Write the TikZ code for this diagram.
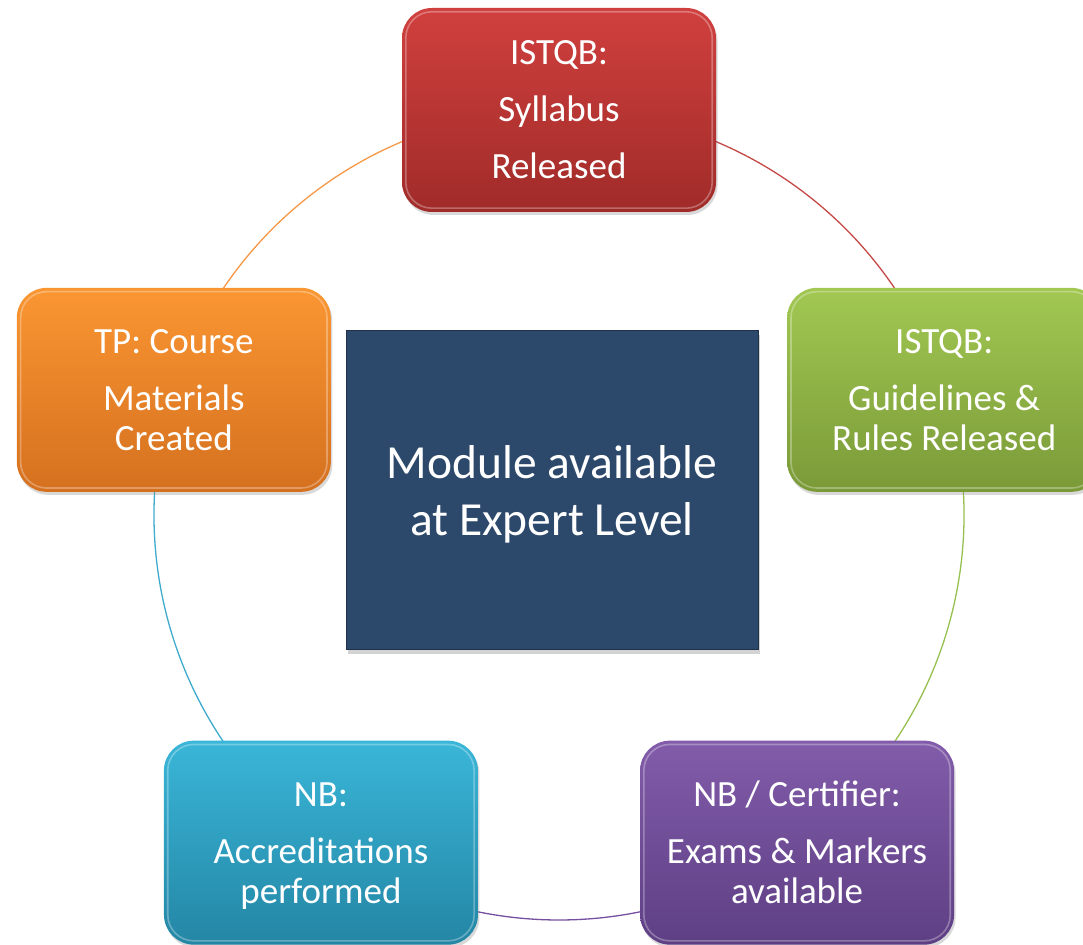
\documentclass[tikz,border=0pt]{standalone}
\usepackage{fontspec}
\setmainfont{Carlito}
\usetikzlibrary{shadows,calc,backgrounds}
\definecolor{redT}{RGB}{208,64,62}\definecolor{redB}{RGB}{160,43,41}
\definecolor{oraT}{RGB}{250,150,50}\definecolor{oraB}{RGB}{213,112,31}
\definecolor{grnT}{RGB}{162,200,82}\definecolor{grnB}{RGB}{122,154,56}
\definecolor{cyaT}{RGB}{58,182,216}\definecolor{cyaB}{RGB}{36,134,165}
\definecolor{purT}{RGB}{130,92,170}\definecolor{purB}{RGB}{94,63,132}
\definecolor{navy}{RGB}{44,72,106}
\definecolor{arcRed}{RGB}{196,72,70}\definecolor{arcOra}{RGB}{246,152,72}
\definecolor{arcGrn}{RGB}{150,192,80}\definecolor{arcPur}{RGB}{118,80,160}
\definecolor{arcCya}{RGB}{62,170,205}
\newcommand{\nodesc}[1]{\raisebox{0pt}[\height][0pt]{#1}}
\begin{document}
\begin{tikzpicture}[x=1pt,y=1pt,
  stagebox/.style={rounded corners=30pt, minimum width=314pt, minimum height=204pt,
    text=white, align=center, inner sep=0pt,
    font=\fontsize{37}{40}\selectfont,
    drop shadow={opacity=.3,shadow xshift=1.5pt,shadow yshift=-3pt}},
  ring/.style={line width=1.3pt},
  hilite/.style={white,opacity=.3,line width=1.6pt,rounded corners=26pt}]
\useasboundingbox (0,0) rectangle (1083,944);
\clip (0,0) rectangle (1083,944);
\coordinate (C) at (559,429);
\node[stagebox, top color=redT, bottom color=redB] (red) at ($(C)+(90:405)$)
  {ISTQB:\\[17pt]Syllabus\\[17pt]Released};
\node[stagebox, top color=grnT, bottom color=grnB] (grn) at ($(C)+(18:405)$)
  {ISTQB:\\[17pt]Guidelines \&\\Rules Released};
\node[stagebox, top color=purT, bottom color=purB] (pur) at ($(C)+(-54:405)$)
  {NB / Certifier:\\[17pt]Exams \& Markers\\available};
\node[stagebox, top color=cyaT, bottom color=cyaB] (cya) at ($(C)+(-126:405)$)
  {NB:\\[17pt]Accreditations\\\nodesc{performed}};
\node[stagebox, top color=oraT, bottom color=oraB] (ora) at ($(C)+(162:405)$)
  {TP: Course\\[17pt]Materials\\Created};
\node[fill=navy, draw=navy!70!black, line width=1pt, minimum width=412pt, minimum height=319pt,
  text=white, align=center, font=\fontsize{47.5}{57}\selectfont,
  drop shadow={opacity=.35,shadow xshift=2pt,shadow yshift=-4pt}] (mid) at (552,453.5)
  {Module available\\\nodesc{at Expert Level}};
\foreach \n in {red,grn,pur,cya,ora}{
  \draw[hilite] ($(\n.south west)+(4,4)$) rectangle ($(\n.north east)+(-4,-4)$);
}
\begin{pgfonlayer}{background}
\draw[ring,arcRed] (red.center) arc[start angle=90,end angle=18,radius=405];
\draw[ring,arcGrn] (grn.center) arc[start angle=18,end angle=-54,radius=405];
\draw[ring,arcPur] (pur.center) arc[start angle=-54,end angle=-126,radius=405];
\draw[ring,arcCya] (cya.center) arc[start angle=-126,end angle=-198,radius=405];
\draw[ring,arcOra] (ora.center) arc[start angle=162,end angle=90,radius=405];
\end{pgfonlayer}
\end{tikzpicture}
\end{document}
